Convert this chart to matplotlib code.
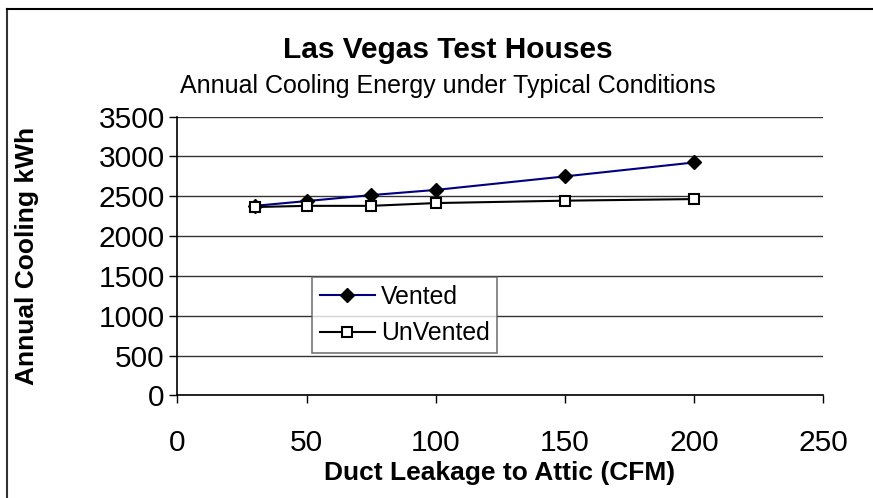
import matplotlib
matplotlib.use('Agg')
import matplotlib.pyplot as plt
from matplotlib.lines import Line2D

plt.rcParams['font.family'] = ['Liberation Sans', 'DejaVu Sans']

# data
leakage_cfm = [30, 50, 75, 100, 150, 200]
vented_kwh = [2380, 2440, 2515, 2580, 2750, 2925]
unvented_kwh = [2365, 2380, 2380, 2415, 2445, 2465]
x_ticks = [0, 50, 100, 150, 200, 250]
y_ticks = [0, 500, 1000, 1500, 2000, 2500, 3000, 3500]

fig = plt.figure(figsize=(8.73, 4.98), dpi=100)
W, H = 873, 498
ax = fig.add_axes([177.3 / W, 1 - 395.3 / H, (823.3 - 177.3) / W, (395.3 - 116.7) / H])

ax.plot(leakage_cfm, vented_kwh, color='#000080', lw=1.5, marker='D', ms=7,
        mfc='black', mec='black', label='Vented')
ax.plot(leakage_cfm, unvented_kwh, color='black', lw=1.5, marker='s', ms=7.5,
        mfc='white', mec='black', mew=1.5, label='UnVented')

ax.set_xlim(0, 250)
ax.set_ylim(0, 3500)
ax.set_xticks(x_ticks)
ax.set_yticks(y_ticks)
ax.tick_params(labelsize=21.5, direction='out', length=6, width=1, pad=18)
ax.tick_params(axis='y', pad=3)
ax.yaxis.grid(True, color='#333333', lw=1)
ax.set_axisbelow(True)
for side in ['top', 'right']:
    ax.spines[side].set_visible(False)
ax.spines['left'].set_linewidth(1.2)
ax.spines['bottom'].set_linewidth(1.2)

fig.text(500 / W, 1 - 473 / H, 'Duct Leakage to Attic (CFM)', ha='center', va='center',
         fontsize=19, fontweight='bold')
fig.text(27 / W, 1 - 256 / H, 'Annual Cooling kWh', ha='center', va='center',
         rotation=90, fontsize=19, fontweight='bold')

fig.text(448 / W, 1 - 50 / H, 'Las Vegas Test Houses', ha='center', va='center',
         fontsize=21.5, fontweight='bold')
fig.text(448 / W, 1 - 86 / H, 'Annual Cooling Energy under Typical Conditions',
         ha='center', va='center', fontsize=18)

leg = ax.legend(loc='upper left',
                bbox_to_anchor=((312.3 - 177.3) / (823.3 - 177.3), (395.3 - 277) / (395.3 - 116.7)),
                fontsize=17.8, frameon=True, fancybox=False, edgecolor='#555555',
                borderpad=0.32, handlelength=2.2, handletextpad=0.25,
                labelspacing=0.5, borderaxespad=0)
leg.get_frame().set_linewidth(1.2)

# outer chart border (left and top only visible)
fig.add_artist(Line2D([7.3 / W, 7.3 / W], [0, 1 - 9.3 / H], color='#333333', lw=1.5))
fig.add_artist(Line2D([7.3 / W, 1], [1 - 9.3 / H, 1 - 9.3 / H], color='black', lw=1.5))

fig.savefig('out.png', dpi=100)
